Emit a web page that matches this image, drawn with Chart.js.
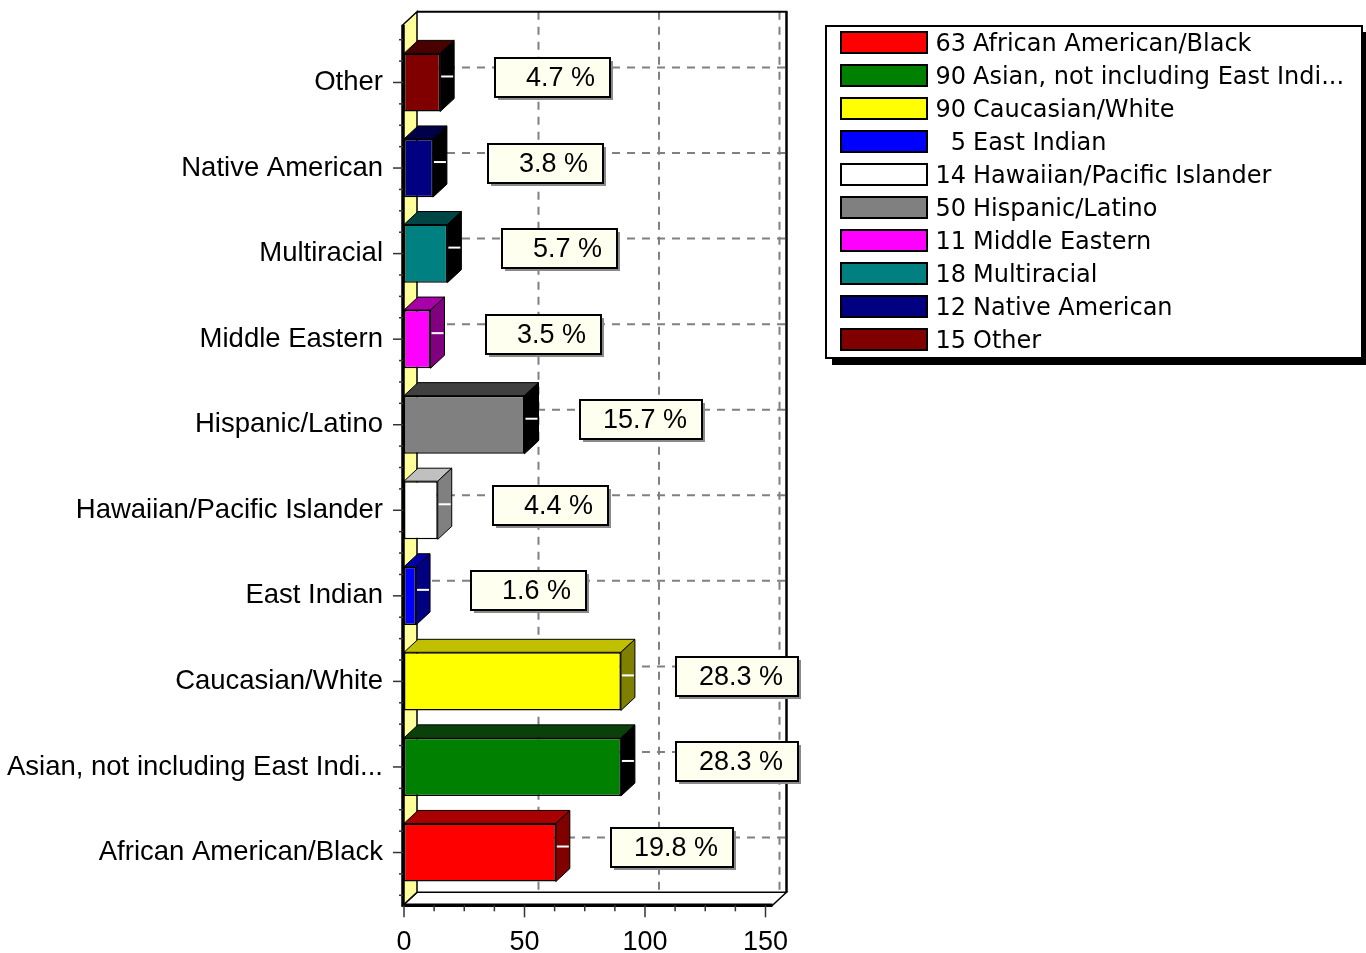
<!DOCTYPE html>
<html>
<head>
<meta charset="utf-8">
<script src="https://cdn.jsdelivr.net/npm/chart.js@4.4.1/dist/chart.umd.min.js"></script>
<style>
  body { margin: 0; background: #fff; }
  canvas { display: block; }
</style>
</head>
<body>
<canvas id="myChart" width="1366" height="953"></canvas>
<script>
// data (bottom to top)
const categories = ['African American/Black', 'Asian, not including East Indi...', 'Caucasian/White', 'East Indian',
  'Hawaiian/Pacific Islander', 'Hispanic/Latino', 'Middle Eastern', 'Multiracial', 'Native American', 'Other'];
const counts = [63, 90, 90, 5, 14, 50, 11, 18, 12, 15];
const percents = [19.8, 28.3, 28.3, 1.6, 4.4, 15.7, 3.5, 5.7, 3.8, 4.7];
const xTicks = [0, 50, 100, 150];

// colours of the three visible faces of each bar
const frontColors = ['#ff0000', '#008000', '#ffff00', '#0000ff', '#ffffff', '#808080', '#ff00ff', '#008080', '#000080', '#800000'];
const topColors   = ['#a80000', '#0a400a', '#c0c000', '#0000a8', '#c0c0c0', '#404040', '#a800a8', '#004545', '#000048', '#480000'];
const sideColors  = ['#800000', '#000000', '#808000', '#000080', '#808080', '#000000', '#800080', '#000000', '#000000', '#000000'];

const DX = 14;   // depth offset to the right
const DY = 13;   // depth offset upwards
const FONT = '"Liberation Sans", Arial, sans-serif';

Chart.defaults.color = '#000';

function poly(ctx, pts, fill, stroke, lw) {
  ctx.beginPath();
  ctx.moveTo(pts[0][0], pts[0][1]);
  for (let i = 1; i < pts.length; i++) ctx.lineTo(pts[i][0], pts[i][1]);
  ctx.closePath();
  if (fill) { ctx.fillStyle = fill; ctx.fill(); }
  if (stroke) { ctx.strokeStyle = stroke; ctx.lineWidth = lw || 1; ctx.stroke(); }
}

function line(ctx, x1, y1, x2, y2, color, lw, dash) {
  ctx.save();
  ctx.beginPath();
  ctx.setLineDash(dash || []);
  ctx.strokeStyle = color;
  ctx.lineWidth = lw;
  ctx.moveTo(x1, y1);
  ctx.lineTo(x2, y2);
  ctx.stroke();
  ctx.restore();
}

// box frame: back wall, floor, yellow side wall, grid and axis ticks
const frame3d = {
  id: 'frame3d',
  beforeDatasetsDraw(chart) {
    const { ctx, chartArea: a, scales: { x, y } } = chart;
    const fl = a.left - 1, fr = a.right + 7, ft = a.top - 15, fb = a.bottom + 10;
    ctx.save();
    // back wall
    poly(ctx, [[fl + DX, ft - DY], [fr + DX, ft - DY], [fr + DX, fb - DY], [fl + DX, fb - DY]], '#fff');
    // dashed grid on the back wall
    const dash = [8, 7];
    xTicks.slice(1).forEach(v => {
      const px = x.getPixelForValue(v) + DX;
      line(ctx, px, ft - DY, px, fb - DY, '#808080', 2, dash);
    });
    categories.forEach((c, i) => {
      const py = y.getPixelForValue(i) - DY - 2;
      line(ctx, fl + DX, py, fr + DX, py, '#808080', 2, dash);
    });
    line(ctx, fl + DX, ft - DY, fr + DX + 1, ft - DY, '#000', 2);
    line(ctx, fr + DX, ft - DY, fr + DX, fb - DY, '#000', 2.5);
    // floor
    poly(ctx, [[fl, fb], [fl + DX, fb - DY], [fr + DX, fb - DY], [fr, fb]], '#fff', '#000', 1.5);
    line(ctx, fl, fb, fr, fb, '#000', 3.5);
    // left wall
    poly(ctx, [[fl, ft], [fl + DX, ft - DY], [fl + DX, fb - DY], [fl, fb]], '#ffff99', '#000', 1.5);
    line(ctx, fl, ft, fl, fb + 1.5, '#000', 3.5);
    // y ticks
    const band = y.getPixelForValue(0) - y.getPixelForValue(1);
    const y0 = y.getPixelForValue(0);
    for (let k = -2; k <= categories.length * 4; k++) {
      const py = y0 - k * band / 4;
      if (py < ft + 2 || py > fb - 2) continue;
      const len = k % 4 === 0 ? 10 : 4;
      line(ctx, fl - len, py, fl, py, '#333', 1.5);
    }
    // x ticks
    for (let v = 0; v <= 150; v += 12.5) {
      const px = x.getPixelForValue(v);
      const len = v % 50 === 0 ? 12 : 6;
      line(ctx, px, fb, px, fb + len, '#333', 1.5);
    }
    ctx.restore();
  }
};

// top and side faces of the bars, leader ticks and the percent boxes
const bars3d = {
  id: 'bars3d',
  afterDatasetsDraw(chart) {
    const { ctx } = chart;
    const meta = chart.getDatasetMeta(0);
    ctx.save();
    meta.data.forEach((bar, i) => {
      const { x, y, base, height } = bar.getProps(['x', 'y', 'base', 'height'], true);
      const top = y - height / 2, bottom = y + height / 2;
      poly(ctx, [[base, top], [base + DX, top - DY], [x + DX, top - DY], [x, top]], topColors[i], '#000', 1);
      poly(ctx, [[x, top], [x + DX, top - DY], [x + DX, bottom - DY], [x, bottom]], sideColors[i], '#000', 1);
      line(ctx, x + 1, y - 6, x + DX - 1, y - 6, '#fff', 2);

      // percent label
      const txt = percents[i].toFixed(1) + ' %';
      ctx.font = '27px ' + FONT;
      const tw = ctx.measureText(txt).width;
      const bw = Math.round(tw * 0.5 + 80), bh = 39;
      const bx = Math.round(x + 55), by = Math.round(y - 5 - bh / 2);
      ctx.fillStyle = '#8a8a8a';
      ctx.fillRect(bx + 3, by + 3, bw, bh);
      ctx.fillStyle = '#fffff0';
      ctx.fillRect(bx, by, bw, bh);
      ctx.strokeStyle = '#000';
      ctx.lineWidth = 2;
      ctx.strokeRect(bx, by, bw, bh);
      ctx.fillStyle = '#000';
      ctx.textAlign = 'right';
      ctx.textBaseline = 'middle';
      ctx.fillText(txt, bx + bw - 15, by + bh / 2 + 1);
    });
    ctx.restore();
  }
};

// legend box on the right with counts
const countLegend = {
  id: 'countLegend',
  afterDraw(chart) {
    const ctx = chart.ctx;
    const lx = 826, ly = 26, lw = 536, lh = 332;
    ctx.save();
    ctx.fillStyle = '#000';
    ctx.fillRect(lx + 6, ly + lh, lw, 7);
    ctx.fillRect(lx + lw, ly + 6, 5, lh);
    ctx.fillStyle = '#fff';
    ctx.fillRect(lx, ly, lw, lh);
    ctx.strokeStyle = '#000';
    ctx.lineWidth = 2;
    ctx.strokeRect(lx, ly, lw, lh);
    ctx.font = '24px "DejaVu Sans", sans-serif';
    ctx.textBaseline = 'middle';
    categories.forEach((c, i) => {
      const ry = 32 + i * 33;
      ctx.fillStyle = frontColors[i];
      ctx.fillRect(841, ry, 86, 21);
      ctx.lineWidth = 2;
      ctx.strokeStyle = '#000';
      ctx.strokeRect(841, ry, 86, 21);
      ctx.fillStyle = '#000';
      ctx.textAlign = 'right';
      ctx.fillText(String(counts[i]), 966, ry + 13);
      ctx.textAlign = 'left';
      ctx.fillText(c, 973, ry + 13);
    });
    ctx.restore();
  }
};

const config = {
  type: 'bar',
  data: {
    labels: categories,
    datasets: [{
      data: counts,
      backgroundColor: frontColors,
      borderColor: '#000',
      borderWidth: 1.5,
      borderSkipped: false,
      barPercentage: 0.68,
      categoryPercentage: 1
    }]
  },
  options: {
    indexAxis: 'y',
    responsive: false,
    animation: false,
    layout: { padding: { top: 39.7, right: 600.5, bottom: 0, left: 0 } },
    plugins: {
      legend: { display: false },
      tooltip: { enabled: false }
    },
    scales: {
      x: {
        min: 0,
        max: 150,
        afterBuildTicks: (scale) => { scale.ticks = xTicks.map(v => ({ value: v })); },
        afterFit: (scale) => { scale.height = 57.7; },
        grid: { display: false, drawTicks: false },
        border: { display: false },
        ticks: { padding: 31, font: { family: FONT, size: 27 }, color: '#000' }
      },
      y: {
        reverse: true,
        afterFit: (scale) => { scale.width = 404; },
        grid: { display: false, drawTicks: false },
        border: { display: false },
        ticks: { padding: 21, font: { family: FONT, size: 27.5 }, color: '#000' }
      }
    }
  },
  plugins: [frame3d, bars3d, countLegend]
};

new Chart(document.getElementById('myChart'), config);
</script>
</body>
</html>
